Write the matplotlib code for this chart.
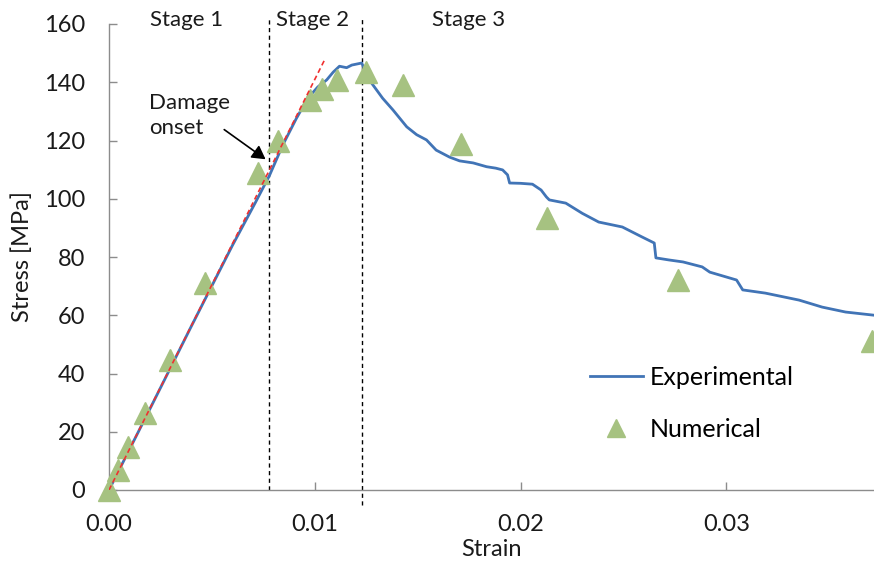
#!/usr/bin/env python3
"""
Stress-strain chart: experimental curve vs numerical points.
"""

import matplotlib
matplotlib.use("Agg")
import matplotlib.pyplot as plt

# Experimental curve (strain, stress in MPa)
exp_strain = [0.0, 0.002, 0.004, 0.006, 0.0071, 0.0078, 0.00845, 0.0091,
              0.00966, 0.01015, 0.01058, 0.0109, 0.0112, 0.01155, 0.0118,
              0.01228, 0.0125, 0.01267, 0.0133, 0.0138, 0.01447, 0.01495,
              0.01543, 0.0159, 0.01655, 0.01704, 0.0177, 0.01835, 0.0188,
              0.01913, 0.01937, 0.01947, 0.0200, 0.02058, 0.0210, 0.02126,
              0.0214, 0.0222, 0.0230, 0.0238, 0.02495, 0.0259, 0.0265,
              0.02658, 0.0272, 0.0279, 0.02883, 0.0292, 0.0305, 0.0308,
              0.0319, 0.03354, 0.03466, 0.0358, 0.0372]
exp_stress = [0.0, 28.0, 56.2, 84.0, 98.5, 108.0, 118.5, 127.5,
              134.5, 138.4, 140.8, 143.5, 145.5, 145.0, 145.9,
              146.6, 143.2, 140.6, 134.5, 130.5, 124.7, 122.0,
              120.2, 116.7, 114.3, 113.0, 112.3, 111.0, 110.5,
              109.9, 108.2, 105.4, 105.3, 105.0, 103.0, 100.6,
              99.6, 98.5, 95.0, 92.0, 90.3, 86.9, 84.8,
              79.7, 79.0, 78.3, 76.6, 74.8, 72.1, 68.7,
              67.6, 65.2, 62.8, 61.1, 60.0]

# Numerical results
num_strain = [0.0, 0.00044, 0.00092, 0.00175, 0.00296, 0.00466, 0.00723,
              0.0082, 0.00976, 0.01034, 0.01107, 0.01248, 0.01427, 0.01709,
              0.02131, 0.02767, 0.0371]
num_stress = [0.0, 6.9, 14.8, 26.4, 44.6, 71.0, 108.8,
              120.0, 133.9, 137.7, 140.8, 143.5, 139.0, 118.8,
              93.4, 72.1, 51.2]

# Linear elastic fit (red dashed)
fit_strain = [0.0, 0.0105]
fit_stress = [0.0, 148.0]

# Stage boundaries
stage_bounds = [0.0078, 0.0123]
stage_labels = ["Stage 1", "Stage 2", "Stage 3"]
stage_label_x = [0.00200, 0.00813, 0.01568]

x_ticks = [0.0, 0.01, 0.02, 0.03]
x_ticklabels = ["0.00", "0.01", "0.02", "0.03"]
y_ticks = [0, 20, 40, 60, 80, 100, 120, 140, 160]


def main():
    plt.rcParams['font.family'] = ['Lato', 'DejaVu Sans']
    fig = plt.figure(figsize=(8.74, 5.62), dpi=100)
    ax = fig.add_axes([109 / 874, 72 / 562, 765 / 874, 466 / 562])

    blue = '#4174B6'
    green = '#A6C281'
    grey = '#8C8C8C'

    ax.plot(exp_strain, exp_stress, color=blue, lw=2.0, label='Experimental',
            zorder=3)
    ax.plot(num_strain, num_stress, ls='none', marker='^', ms=16,
            color=green, mec=green, label='Numerical', zorder=4, clip_on=False)
    ax.plot(fit_strain, fit_stress, color='#F03030', lw=1.2, ls=(0, (3, 2)),
            zorder=5)

    # Stage boundaries
    ax.plot([stage_bounds[0]] * 2, [0, 162.5], color='black', lw=1.0,
            ls=(0, (3, 2.5)), clip_on=False, zorder=2)
    ax.plot([stage_bounds[1]] * 2, [-5, 162.5], color='black', lw=1.0,
            ls=(0, (3, 2.5)), clip_on=False, zorder=2)
    for lbl, sx in zip(stage_labels, stage_label_x):
        ax.text(sx, 161.5, lbl, fontsize=16, ha='left', va='center',
                color='#1A1A1A')

    # Damage onset annotation
    ax.text(0.00195, 128.6, "Damage\nonset", fontsize=16, ha='left',
            va='center', linespacing=1.35, color='#1A1A1A')
    ax.annotate("", xy=(0.00772, 113.0), xytext=(0.00549, 124.3),
                arrowprops=dict(arrowstyle='-|>,head_length=0.8,head_width=0.45',
                                color='black', lw=1.2))

    ax.set_xlim(0, 0.03718)
    ax.set_ylim(0, 160)
    ax.set_xticks(x_ticks)
    ax.set_xticklabels(x_ticklabels)
    ax.set_yticks(y_ticks)

    for side in ('top', 'right'):
        ax.spines[side].set_visible(False)
    for side in ('left', 'bottom'):
        ax.spines[side].set_color(grey)
        ax.spines[side].set_linewidth(1.0)
    ax.tick_params(axis='both', direction='in', length=6, width=1.0,
                   color=grey, labelsize=17, labelcolor='#1A1A1A', pad=17)

    fig.text(22 / 874, 1 - 257 / 562, "Stress [MPa]", rotation=90,
             fontsize=17, ha='center', va='center', color='#1A1A1A')
    fig.text(491 / 874, 1 - 549 / 562, "Strain", fontsize=17,
             ha='center', va='center', color='#1A1A1A')

    ax.legend(loc='upper left', bbox_to_anchor=(590 / 874, 1 - 366 / 562),
              bbox_transform=fig.transFigure, frameon=False, fontsize=18,
              handlelength=2.1, handletextpad=0.3, labelspacing=1.15,
              markerscale=0.8, borderpad=0, borderaxespad=0)

    fig.savefig('out.png', dpi=100)
    plt.close(fig)


if __name__ == "__main__":
    main()
